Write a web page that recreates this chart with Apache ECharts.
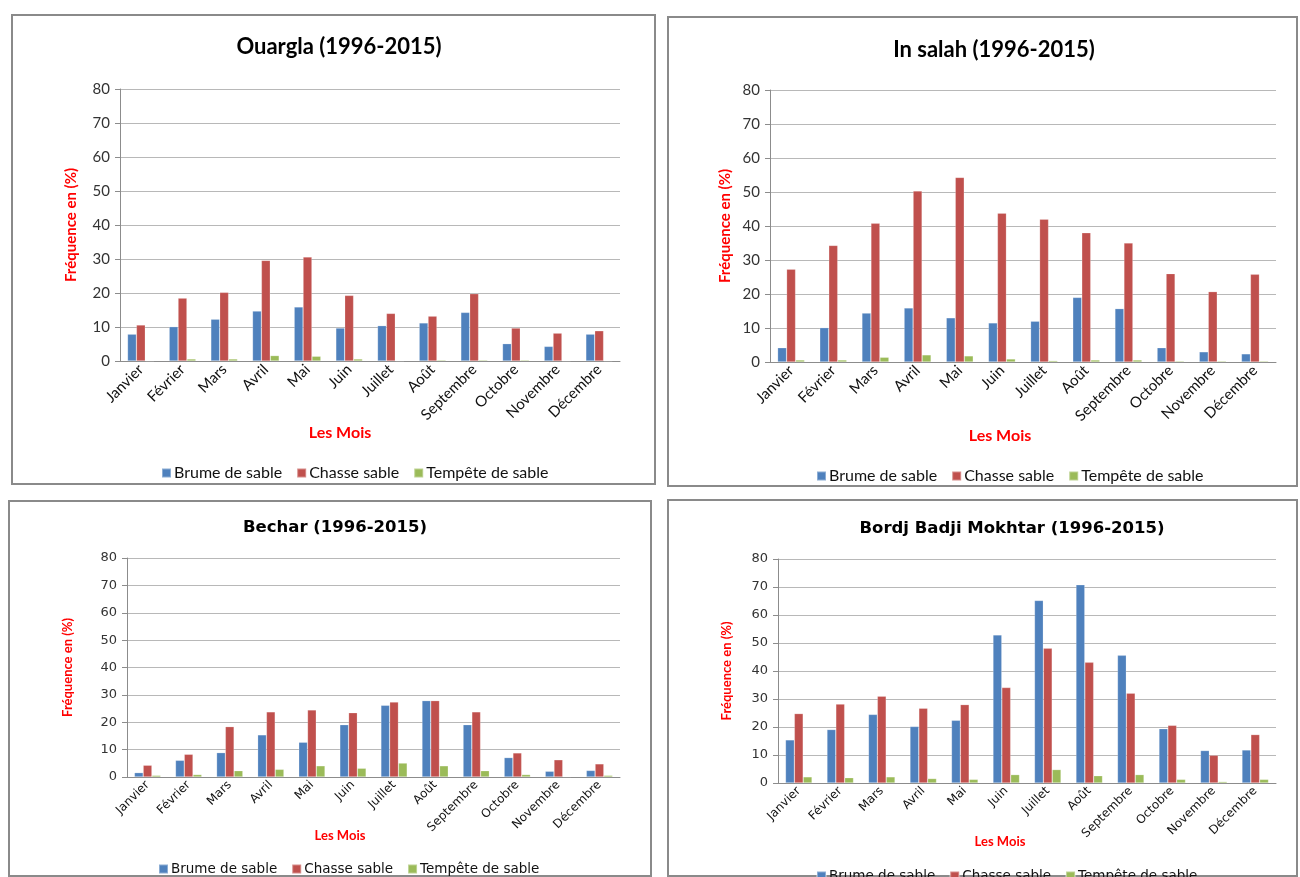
<!DOCTYPE html>
<html>
<head>
<meta charset="utf-8">
<script src="https://cdn.jsdelivr.net/npm/echarts@6/dist/echarts.min.js"></script>
<style>
html,body{margin:0;padding:0;background:#fff;}
#c{width:1300px;height:877px;}
</style>
</head>
<body>
<div id="c"></div>
<script>
var months = ['Janvier','Février','Mars','Avril','Mai','Juin','Juillet','Août','Septembre','Octobre','Novembre','Décembre'];
var seriesNames = ['Brume de sable','Chasse sable','Tempête de sable'];
var stationTitles = ['Ouargla (1996-2015)','In salah (1996-2015)','Bechar (1996-2015)','Bordj Badji Mokhtar (1996-2015)'];
var yTicks = [0,10,20,30,40,50,60,70,80];

var ouarglaBrume   = [7.9,10.1,12.3,14.7,15.9,9.7,10.4,11.2,14.3,5.1,4.3,7.9];
var ouarglaChasse  = [10.6,18.5,20.2,29.6,30.6,19.3,14.0,13.2,19.8,9.7,8.2,8.9];
var ouarglaTempete = [0.1,0.6,0.6,1.6,1.4,0.6,0.1,0.3,0.3,0.3,0.1,0.1];

var inSalahBrume   = [4.2,10.1,14.4,15.9,13.0,11.5,12.0,19.0,15.7,4.2,3.0,2.4];
var inSalahChasse  = [27.3,34.3,40.8,50.3,54.3,43.8,42.0,38.0,35.0,26.0,20.7,25.8];
var inSalahTempete = [0.6,0.6,1.4,2.1,1.8,0.9,0.4,0.6,0.6,0.3,0.3,0.3];

var becharBrume   = [1.6,6.1,8.9,15.4,12.7,19.1,26.2,27.9,19.1,7.1,2.1,2.4];
var becharChasse  = [4.3,8.3,18.4,23.8,24.5,23.5,27.4,27.9,23.8,8.8,6.3,4.8];
var becharTempete = [0.6,0.9,2.3,2.8,4.1,3.2,5.1,4.1,2.3,0.9,0.2,0.6];

var bordjBrume   = [15.4,19.1,24.5,20.2,22.4,52.9,65.2,70.8,45.6,19.4,11.6,11.8];
var bordjChasse  = [24.8,28.2,31.0,26.7,28.0,34.1,48.1,43.1,32.1,20.6,9.9,17.3];
var bordjTempete = [2.2,1.9,2.2,1.6,1.3,3.0,4.8,2.6,3.0,1.3,0.5,1.3];

var colors = ['#4F81BD','#C0504D','#9BBB59'];
var FONT_A = 'Lato, "Open Sans", sans-serif';
var FONT_B = '"DejaVu Sans", Verdana, sans-serif';

var panels = [
  {data:[ouarglaBrume,ouarglaChasse,ouarglaTempete], grid:{left:120,top:89,width:500,height:272}, font:FONT_A,
   box:[12,15,643,469], titleX:334, titleTop:31, titleSize:22, axisFont:15, labelFont:15, nameFont:15, nameGap:41,
   mois:[340,433], moisFont:16, legendLeft:156, legendTop:460, legendFont:16, legendGap:14},
  {data:[inSalahBrume,inSalahChasse,inSalahTempete], grid:{left:770,top:90,width:506,height:272}, font:FONT_A,
   box:[668,17,629,469], titleX:989, titleTop:34, titleSize:22, axisFont:15, labelFont:15, nameFont:15, nameGap:37,
   mois:[1000,436], moisFont:16, legendLeft:811, legendTop:463, legendFont:16, legendGap:14},
  {data:[becharBrume,becharChasse,becharTempete], grid:{left:127,top:558,width:493,height:219}, font:FONT_B,
   box:[9,501,642,375], titleX:330, titleTop:514, titleSize:16.5, axisFont:13, labelFont:12, nameFont:13, nameGap:53,
   mois:[340,836], moisFont:13, legendLeft:153, legendTop:857, legendFont:13.5, legendGap:14},
  {data:[bordjBrume,bordjChasse,bordjTempete], grid:{left:778,top:559,width:498,height:224}, font:FONT_B,
   box:[668,500,629,376], titleX:1007, titleTop:515, titleSize:16.5, axisFont:13, labelFont:12, nameFont:13, nameGap:45,
   mois:[1000,842], moisFont:13, legendLeft:811, legendTop:864, legendFont:13.5, legendGap:14}
];

var option = {
  animation:false,
  backgroundColor:'#fff',
  textStyle:{fontFamily:FONT_A},
  color:colors,
  title:[], grid:[], xAxis:[], yAxis:[], series:[], legend:[], graphic:[]
};

panels.forEach(function(p,i){
  option.title.push({text:stationTitles[i], left:p.titleX, top:p.titleTop, textAlign:'center',
    textStyle:{fontFamily:p.font, fontSize:p.titleSize, fontWeight:'bold', color:'#000'}});
  option.grid.push(Object.assign({containLabel:false}, p.grid));
  option.xAxis.push({type:'category', gridIndex:i, data:months,
    axisLine:{show:true, lineStyle:{color:'#8c8c8c', width:1}},
    axisTick:{show:false},
    axisLabel:{rotate:45, fontFamily:p.font, fontSize:p.labelFont, color:'#111', margin:6, interval:0}});
  option.yAxis.push({type:'value', gridIndex:i, min:yTicks[0], max:yTicks[yTicks.length-1], interval:10,
    name:'Fréquence en (%)', nameLocation:'middle', nameGap:p.nameGap,
    nameTextStyle:{color:'#ff0000', fontWeight:'bold', fontSize:p.nameFont, fontFamily:FONT_A},
    axisLine:{show:true, lineStyle:{color:'#8c8c8c'}},
    axisTick:{show:true, inside:false, length:5, lineStyle:{color:'#8c8c8c'}},
    axisLabel:{fontFamily:p.font, fontSize:p.axisFont, color:'#333', margin:10},
    splitLine:{show:true, lineStyle:{color:'#b8b8b8', width:1}}});
  seriesNames.forEach(function(n,k){
    option.series.push({type:'bar', name:n, xAxisIndex:i, yAxisIndex:i, data:p.data[k],
      barGap:'0%', barCategoryGap:'36%',
      itemStyle:{color:colors[k], borderColor:'rgba(255,255,255,0.35)', borderWidth:0.6}});
  });
  option.legend.push({data:seriesNames, left:p.legendLeft, top:p.legendTop, orient:'horizontal',
    itemWidth:9, itemHeight:9, itemGap:p.legendGap, icon:'rect', selectedMode:false,
    textStyle:{fontFamily:p.font, fontSize:p.legendFont, color:'#111', padding:[0,0,0,-2]}});
  option.graphic.push({type:'rect', shape:{x:p.box[0], y:p.box[1], width:p.box[2], height:p.box[3]},
    style:{fill:'none', stroke:'#8a8a8a', lineWidth:2}, z:-1, silent:true});
  option.graphic.push({type:'text', x:p.mois[0], y:p.mois[1],
    style:{text:'Les Mois', fill:'#ff0000', font:'bold '+p.moisFont+'px '+FONT_A, textAlign:'center', textVerticalAlign:'middle'}});
});

var chart = echarts.init(document.getElementById('c'), null, {renderer:'canvas'});
chart.setOption(option);
</script>
</body>
</html>
